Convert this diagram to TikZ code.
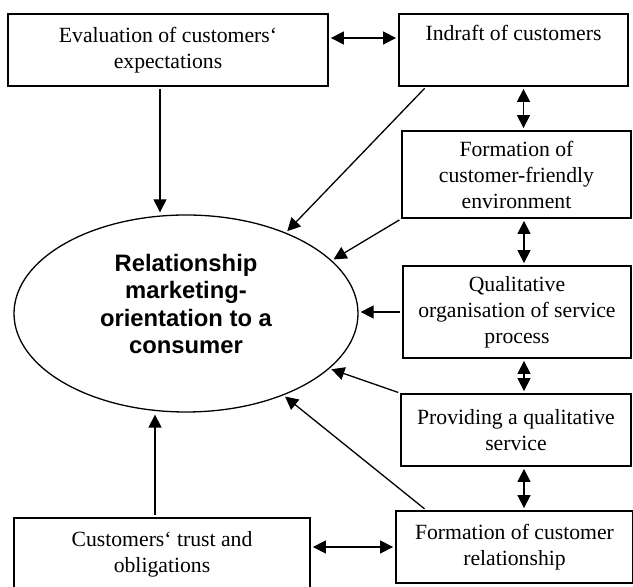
\documentclass[tikz,border=0pt]{standalone}
\usepackage{fontspec}
\setmainfont{Liberation Serif}
\setsansfont{Liberation Sans}
\usetikzlibrary{arrows.meta,shapes.geometric}

\begin{document}
\begin{tikzpicture}[x=0.5pt,y=-0.5pt,shorten >=1pt,shorten <=1pt,
	every node/.style={font=\fontsize{10.85}{13}\selectfont},
	box/.style={draw,line width=0.9pt,align=center,inner sep=0pt},
	link/.style={-{Triangle[length=6.5pt,width=6.5pt]},line width=0.65pt},
	both/.style={{Triangle[length=6.5pt,width=6.5pt]}-{Triangle[length=6.5pt,width=6.5pt]},line width=0.65pt}]

		\useasboundingbox (0,0) rectangle (633,587);

		\node[box,minimum width=160pt,minimum height=36pt] (eval) at (168,50) {Evaluation of customers‘\\expectations};
		\node[box,minimum width=114.5pt,minimum height=36pt] (indraft) at (513.5,50) {Indraft of customers\\\strut};
		\node[box,minimum width=114.5pt,minimum height=43.5pt] (friendly) at (516.5,174.5) {Formation of\\customer-friendly\\environment};
		\node[box,minimum width=114pt,minimum height=46pt] (process) at (517,312) {Qualitative\\organisation of service\\process};
		\node[box,minimum width=115pt,minimum height=36pt] (service) at (516,430) {Providing a qualitative\\service};
		\node[box,minimum width=118.5pt,minimum height=36pt] (relation) at (514.5,547) {Formation of customer\\relationship};
		\node[box,minimum width=148pt,minimum height=36pt] (trust) at (162,554) {Customers‘ trust and\\obligations};

		\node[draw,ellipse,line width=0.65pt,minimum width=172pt,minimum height=98.5pt,inner sep=0pt] (core) at (186,313.5) {};
		\node[font=\sffamily\bfseries\fontsize{11.9}{13.75}\selectfont,align=center] (coretext) at (186,304) {Relationship\\marketing-\\orientation to a\\consumer};

		\path[link]
			([xshift=-4pt]eval.south) edge ([xshift=-4pt]eval.south |- core.north)
			([xshift=-43.75pt]indraft.south) edge (core.39)
			(friendly.south west) edge (core.20)
			(process.west) edge (process.west -| core.east)
			(service.north west) edge (core.-21)
			([xshift=15.5pt]relation.north west) edge (core.-40)
			([xshift=-3.5pt]trust.north) edge ([xshift=-3.5pt]trust.north |- core.south);

		\path[both]
			([yshift=6pt]eval.east) edge ([yshift=6pt]indraft.west)
			([xshift=5pt]indraft.south) edge ([xshift=5pt]indraft.south |- friendly.north)
			([xshift=3.75pt]friendly.south) edge ([xshift=3.75pt]friendly.south |- process.north)
			([xshift=3.5pt]process.south) edge ([xshift=3.5pt]process.south |- service.north)
			([xshift=4pt]service.south) edge ([xshift=4pt]service.south |- relation.north)
			(relation.west) edge (relation.west -| trust.east);
\end{tikzpicture}
\end{document}
